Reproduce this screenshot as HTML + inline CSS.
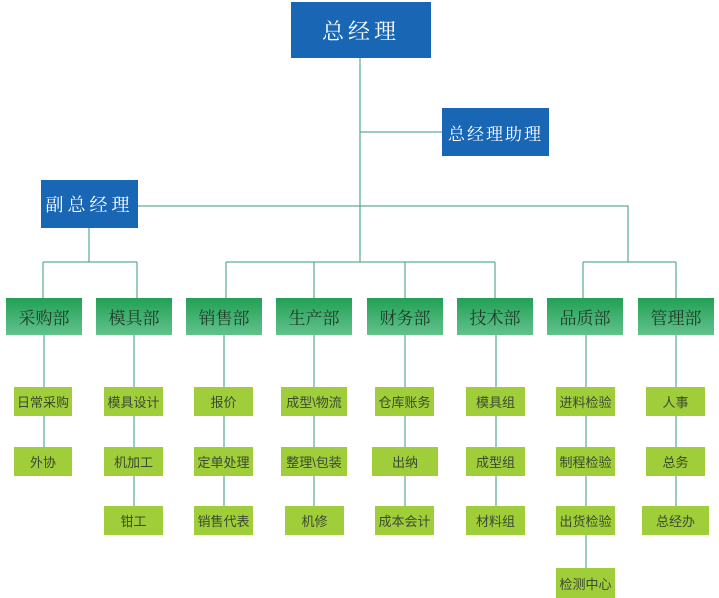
<!DOCTYPE html>
<html><head><meta charset="utf-8"><style>
body{margin:0;width:719px;height:598px;background:#fff;position:relative;overflow:hidden;font-family:"Liberation Sans","Noto Sans CJK SC",sans-serif}
.b{position:absolute;display:flex;align-items:center;justify-content:center;box-sizing:border-box}
.blue{background:#1866b4;color:#fff;font-family:"Liberation Serif","Noto Serif CJK SC",serif;letter-spacing:4px}
.d{background:linear-gradient(#22a055,#62c28c);color:#1e3a28;font-size:17px;font-family:"Liberation Serif","Noto Serif CJK SC",serif;top:298px;height:37px;width:76px}
.s{background:#a0cd3a;color:#3a4a30;font-size:13px;height:29px}
svg{position:absolute;left:0;top:0}
</style></head><body>
<svg width="719" height="598" stroke="#3a9a78" stroke-width="1" fill="none">
<path d="M360 58V262M360 132H442M138 206H628V262M89 228V262M43 262H137M43 262V298M137 262V298M226 262H495M226 262V298M314 262V298M405 262V298M495 262V298M583 262H676M583 262V298M676 262V298"/>
<path d="M44 335V447M134 335V506M224 335V506M314 335V506M405 335V506M496 335V506M586 335V568M676 335V506"/>
</svg>
<div class="b blue" style="left:291px;top:2px;width:140px;height:56px;font-size:22px">总经理</div>
<div class="b blue" style="left:442px;top:108px;width:107px;height:48px;font-size:17px;letter-spacing:2px">总经理助理</div>
<div class="b blue" style="left:41px;top:180px;width:97px;height:48px;font-size:18px">副总经理</div>
<div class="b d" style="left:6px">采购部</div>
<div class="b d" style="left:96px">模具部</div>
<div class="b d" style="left:186px">销售部</div>
<div class="b d" style="left:276px">生产部</div>
<div class="b d" style="left:367px">财务部</div>
<div class="b d" style="left:457px">技术部</div>
<div class="b d" style="left:547px">品质部</div>
<div class="b d" style="left:638px">管理部</div>

<div class="b s" style="left:14px;top:387px;width:58px">日常采购</div>
<div class="b s" style="left:14px;top:447px;width:58px">外协</div>
<div class="b s" style="left:104px;top:387px;width:59px">模具设计</div>
<div class="b s" style="left:104px;top:447px;width:59px">机加工</div>
<div class="b s" style="left:104px;top:506px;width:59px">钳工</div>
<div class="b s" style="left:194px;top:387px;width:59px">报价</div>
<div class="b s" style="left:194px;top:447px;width:59px">定单处理</div>
<div class="b s" style="left:194px;top:506px;width:59px">销售代表</div>
<div class="b s" style="left:281px;top:387px;width:66px">成型\物流</div>
<div class="b s" style="left:281px;top:447px;width:66px">整理\包装</div>
<div class="b s" style="left:285px;top:506px;width:59px">机修</div>
<div class="b s" style="left:375px;top:387px;width:59px">仓库账务</div>
<div class="b s" style="left:372px;top:447px;width:66px">出纳</div>
<div class="b s" style="left:375px;top:506px;width:59px">成本会计</div>
<div class="b s" style="left:466px;top:387px;width:59px">模具组</div>
<div class="b s" style="left:466px;top:447px;width:59px">成型组</div>
<div class="b s" style="left:466px;top:506px;width:59px">材料组</div>
<div class="b s" style="left:556px;top:387px;width:59px">进料检验</div>
<div class="b s" style="left:556px;top:447px;width:59px">制程检验</div>
<div class="b s" style="left:556px;top:506px;width:59px">出货检验</div>
<div class="b s" style="left:556px;top:568px;width:59px;height:30px">检测中心</div>
<div class="b s" style="left:646px;top:387px;width:59px">人事</div>
<div class="b s" style="left:646px;top:447px;width:59px">总务</div>
<div class="b s" style="left:642px;top:506px;width:67px">总经办</div>
</body></html>
